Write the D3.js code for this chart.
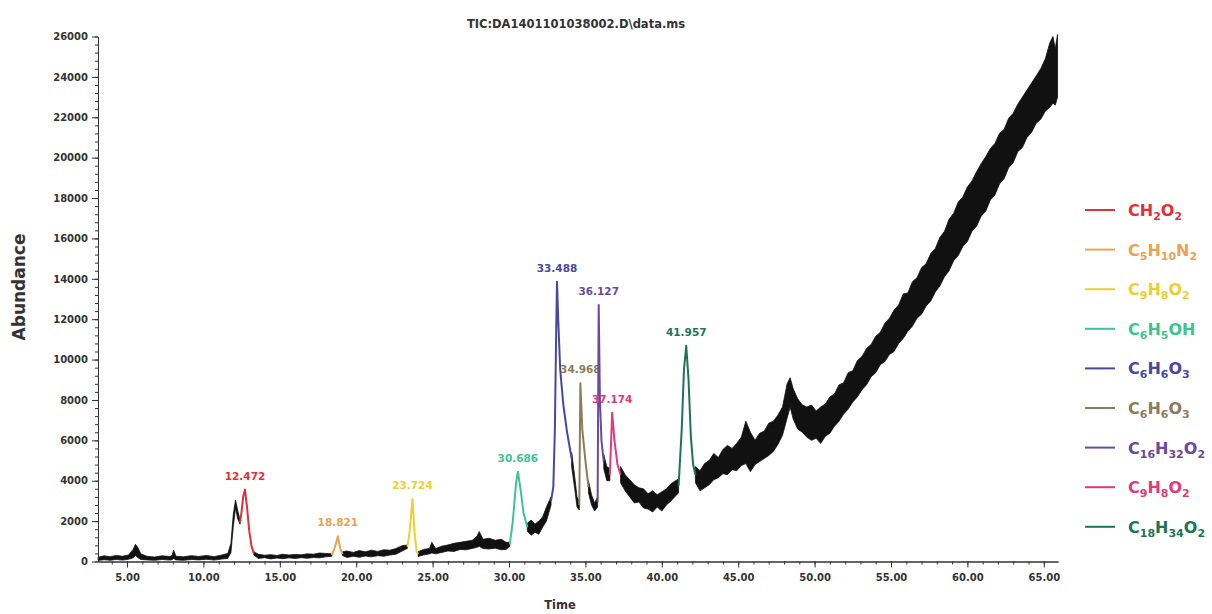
<!DOCTYPE html>
<html>
<head>
<meta charset="utf-8">
<script src="https://cdn.jsdelivr.net/npm/d3@7/dist/d3.min.js"></script>
<style>
  body { margin: 0; background: #fff; }
  text { font-family: "DejaVu Sans", sans-serif; }
</style>
</head>
<body>
<div id="chart"></div>
<script>
// TIC trace: time (min), lower and upper edge of the noisy band.
// null marks a gap where a coloured peak takes over.
const traceTime = [
  3.1, 3.5, 3.9, 4.3, 4.7, 5.1, 5.4, 5.55, 5.7, 5.9, 6.3, 6.8, 7.3, 7.8, 7.95, 8.05, 8.2, 8.7, 9.2, 9.7, 10.2, 10.7, 11.2, 11.6, 11.8, 11.95, 12.1, 12.25, 12.4, 12.41,
  13.3, 13.6, 14.0, 14.4, 14.8, 15.2, 15.6, 16.0, 16.4, 16.8, 17.2, 17.6, 18.0, 18.4, 18.41,
  19.1, 19.4, 19.8, 20.2, 20.6, 21.0, 21.4, 21.8, 22.2, 22.6, 23.0, 23.35, 23.36,
  24.05, 24.4, 24.8, 24.95, 25.2, 25.6, 26.0, 26.4, 26.8, 27.2, 27.6, 27.9, 28.05, 28.3, 28.7, 29.1, 29.5, 29.8, 30.05, 30.06,
  31.2, 31.45, 31.7, 31.95, 32.2, 32.45, 32.75, 32.76,
  34.1, 34.3, 34.45, 34.6, 34.61,
  35.2, 35.4, 35.6, 35.8, 35.81,
  36.2, 36.4, 36.6, 36.61,
  37.3, 37.6, 37.9, 38.2, 38.5, 38.8, 39.1, 39.4, 39.7, 40.0, 40.3, 40.6, 40.9, 41.1, 41.11,
  42.2, 42.5, 42.8, 43.1, 43.4, 43.7, 44.0, 44.3, 44.6, 44.9, 45.2, 45.5, 45.8, 46.1, 46.4, 46.7, 47.0, 47.3, 47.6, 47.9,
  48.2, 48.4, 48.6, 48.9, 49.2, 49.5, 49.8, 50.1, 50.4, 50.7, 51.0, 51.3, 51.6, 51.9, 52.2, 52.5, 52.8, 53.1, 53.4, 53.7,
  54.0, 54.3, 54.6, 54.9, 55.2, 55.5, 55.8, 56.1, 56.4, 56.7, 57.0, 57.3, 57.6, 57.9, 58.2, 58.5, 58.8, 59.1, 59.4, 59.7,
  60.0, 60.3, 60.6, 60.9, 61.2, 61.5, 61.8, 62.1, 62.4, 62.7, 63.0, 63.3, 63.6, 63.9, 64.2, 64.5, 64.8, 65.1, 65.4, 65.6, 65.75, 65.9
];
const traceLow = [
  50, 90, 60, 100, 70, 110, 180, 300, 200, 100, 80, 60, 100, 70, 90, 150, 80, 60, 100, 80, 110, 70, 120, 160, 450, 1700, 2650, 2100, 1850, null,
  320, 150, 190, 130, 170, 140, 180, 150, 190, 160, 200, 180, 230, 260, null,
  300, 200, 260, 210, 270, 230, 290, 260, 320, 360, 520, 650, null,
  250, 320, 380, 420, 380, 450, 520, 500, 600, 580, 650, 700, 750, 640, 620, 660, 580, 600, 750, null,
  1500, 1300, 1450, 1350, 1700, 2000, 2800, null,
  4700, 3600, 2700, 2550, null,
  3400, 2800, 2500, 2700, null,
  4600, 4000, 4000, null,
  3900, 3500, 3200, 2900, 2950, 2650, 2600, 2450, 2700, 2500, 2800, 3000, 3250, 3400, null,
  3900, 3500, 3650, 3800, 4050, 4150, 4350, 4300, 4550, 4500, 4750, 4850, 4450, 4800, 4950, 5100, 5250, 5450, 5800, 6250,
  7100, 7650, 7050, 6550, 6400, 6150, 6000, 6100, 5850, 6200, 6350, 6700, 6950, 7300, 7550, 7900, 8150, 8500, 8750, 9150,
  9350, 9750, 9900, 10250, 10400, 10800, 11050, 11400, 11650, 12050, 12250, 12650, 12900, 13350, 13650, 14100, 14400, 14900, 15150, 15600,
  15850, 16350, 16600, 17100, 17350, 17900, 18150, 18700, 18950, 19500, 19750, 20300, 20500, 21000, 21250, 21700, 21900, 22300, 22500, 22700, 22600, 23000
];
const traceHigh = [
  210, 280, 240, 300, 260, 320, 600, 850, 700, 380, 260, 220, 280, 250, 300, 560, 260, 230, 290, 250, 300, 240, 320, 400, 900, 2300, 3050, 2500, 2050, null,
  480, 360, 310, 340, 300, 360, 320, 350, 330, 380, 360, 420, 400, 380, null,
  480, 520, 450, 540, 480, 560, 500, 580, 560, 640, 780, 820, null,
  480, 600, 650, 950, 640, 760, 820, 900, 950, 1000, 1050, 1250, 1480, 1100, 1150, 1050, 1100, 950, 950, null,
  1900, 2050, 1850, 2000, 2200, 2700, 3200, null,
  5400, 4200, 3200, 3000, null,
  4000, 3300, 2900, 3200, null,
  5300, 4700, 4600, null,
  4700, 4300, 4050, 3800, 3650, 3600, 3350, 3500, 3300, 3450, 3600, 3850, 4000, 4100, null,
  4700, 4500, 4850, 5000, 5350, 5150, 5550, 5750, 5600, 5850, 6150, 6950, 6400, 6000, 6350, 6450, 6850, 6950, 7250, 7650,
  8800, 9100, 8550, 8050, 7750, 7650, 7750, 7450, 7650, 7800, 8150, 8300, 8750, 8850, 9350, 9450, 9950, 10150, 10550, 10750,
  11150, 11350, 11800, 12050, 12450, 12700, 13250, 13300, 13850, 14050, 14550, 14750, 15250, 15500, 16050, 16350, 16950, 17250, 17800, 18050,
  18550, 18850, 19300, 19700, 20050, 20450, 20700, 21200, 21400, 21950, 22200, 22650, 23000, 23350, 23700, 24050, 24400, 24900, 25700, 26000, 25400, 26100
];

// identified peaks
const peakLabels = ["12.472", "18.821", "23.724", "30.686", "33.488", "34.968", "36.127", "37.174", "41.957"];
const compounds = ["CH2O2", "C5H10N2", "C9H8O2", "C6H5OH", "C6H6O3", "C6H6O3", "C16H32O2", "C9H8O2", "C18H34O2"];
const peakColors = ["#e0303c", "#e8a450", "#ecd030", "#3ec494", "#4848a0", "#8c7c5c", "#6a4aa0", "#e03a7c", "#1e7458"];
const peakTimes = [
  [12.4, 12.5, 12.6, 12.72, 12.85, 13.0, 13.15, 13.3],
  [18.4, 18.6, 18.8, 18.95, 19.1],
  [23.35, 23.5, 23.68, 23.82, 23.95, 24.05],
  [30.05, 30.25, 30.45, 30.58, 30.75, 30.95, 31.2],
  [32.75, 32.9, 33.0, 33.08, 33.14, 33.22, 33.35, 33.55, 33.8, 34.1],
  [34.6, 34.67, 34.8, 35.0, 35.2],
  [35.8, 35.87, 35.95, 36.05, 36.2],
  [36.6, 36.75, 36.9, 37.1, 37.3],
  [41.1, 41.3, 41.45, 41.6, 41.75, 41.9, 42.05, 42.2]
];
const peakValues = [
  [1950, 2500, 3200, 3560, 2700, 1500, 750, 400],
  [320, 700, 1250, 650, 380],
  [720, 1500, 3100, 1400, 500, 360],
  [850, 2000, 3800, 4450, 3600, 2400, 1700],
  [3000, 3700, 6500, 11000, 13860, 12000, 9500, 7800, 6400, 5100],
  [2800, 8830, 6500, 5000, 3700],
  [2950, 12700, 8000, 6000, 4950],
  [4300, 7365, 6000, 4800, 4300],
  [3750, 6500, 9500, 10680, 9000, 6200, 4800, 4300]
];

const xMajor = [5, 10, 15, 20, 25, 30, 35, 40, 45, 50, 55, 60, 65];
const yMajor = [0, 2000, 4000, 6000, 8000, 10000, 12000, 14000, 16000, 18000, 20000, 22000, 24000, 26000];

const W = 1212, H = 614;
let svg = d3.select("#chart")
    .append("svg")
    .attr("width", W)
    .attr("height", H);

let x = d3.scaleLinear().domain([3.1, 65.93]).range([98, 1058]);
let y = d3.scaleLinear().domain([0, 26000]).range([561.5, 36.5]);

// black trace band
let trace = traceTime.map(function(t, i) { return {t: t, lo: traceLow[i], hi: traceHigh[i]}; });
svg.append("path")
    .datum(trace)
    .attr("fill", "#111")
    .attr("stroke", "#111")
    .attr("stroke-width", 0.8)
    .attr("stroke-linejoin", "round")
    .attr("d", d3.area()
        .defined(function(d) { return d.lo !== null; })
        .x(function(d) { return x(d.t); })
        .y0(function(d) { return y(d.lo); })
        .y1(function(d) { return y(d.hi); }));

// coloured peaks and their retention-time labels
let line = d3.line()
    .x(function(d) { return x(d[0]); })
    .y(function(d) { return y(d[1]); });

peakTimes.forEach(function(ts, i) {
  let pts = ts.map(function(t, j) { return [t, peakValues[i][j]]; });
  svg.append("path")
      .datum(pts)
      .attr("fill", "none")
      .attr("stroke", peakColors[i])
      .attr("stroke-width", 2)
      .attr("stroke-linejoin", "round")
      .attr("d", line);

  let top = pts.reduce(function(a, b) { return b[1] > a[1] ? b : a; });
  svg.append("text")
      .attr("x", x(top[0]))
      .attr("y", y(top[1]) - 10)
      .attr("text-anchor", "middle")
      .attr("font-size", 10.5)
      .attr("font-weight", "bold")
      .attr("fill", peakColors[i])
      .text(peakLabels[i]);
});

// axes
function styleAxis(g) {
  g.attr("font-family", "DejaVu Sans");
  g.select(".domain").attr("stroke", "#333");
  g.selectAll(".tick line").attr("stroke", "#333");
  g.selectAll(".tick text").attr("fill", "#333").attr("font-size", 10).attr("font-weight", "bold");
}

svg.append("g")
    .attr("transform", `translate(0,${y(0)})`)
    .call(d3.axisBottom(x).tickValues(d3.range(4, 66, 1)).tickSize(3).tickSizeOuter(0).tickFormat(""))
    .call(styleAxis);
svg.append("g")
    .attr("transform", `translate(0,${y(0)})`)
    .call(d3.axisBottom(x).tickValues(xMajor).tickSize(6).tickSizeOuter(0).tickPadding(6).tickFormat(d3.format(".2f")))
    .call(styleAxis);

svg.append("g")
    .attr("transform", `translate(${x.range()[0]},0)`)
    .call(d3.axisLeft(y).tickValues(d3.range(0, 26001, 400)).tickSize(3).tickSizeOuter(0).tickFormat(""))
    .call(styleAxis);
svg.append("g")
    .attr("transform", `translate(${x.range()[0]},0)`)
    .call(d3.axisLeft(y).tickValues(yMajor).tickSize(6).tickSizeOuter(0).tickPadding(4).tickFormat(d3.format("d")))
    .call(styleAxis);

// titles
svg.append("text")
    .attr("x", 576)
    .attr("y", 28)
    .attr("text-anchor", "middle")
    .attr("font-size", 11.5)
    .attr("font-weight", "bold")
    .attr("fill", "#333")
    .text("TIC:DA1401101038002.D\\data.ms");

svg.append("text")
    .attr("transform", `translate(25, 287) rotate(-90)`)
    .attr("text-anchor", "middle")
    .attr("font-size", 17)
    .attr("font-weight", "bold")
    .attr("fill", "#333")
    .text("Abundance");

svg.append("text")
    .attr("x", 560)
    .attr("y", 609)
    .attr("text-anchor", "middle")
    .attr("font-size", 11.5)
    .attr("font-weight", "bold")
    .attr("fill", "#333")
    .text("Time");

// legend with chemical formulas
let legend = svg.append("g");
compounds.forEach(function(f, i) {
  let ry = 210 + i * 39.6;
  legend.append("line")
      .attr("x1", 1085).attr("x2", 1115)
      .attr("y1", ry).attr("y2", ry)
      .attr("stroke", peakColors[i])
      .attr("stroke-width", 2);

  let t = legend.append("text")
      .attr("x", 1128)
      .attr("y", ry + 6)
      .attr("font-size", 16)
      .attr("font-weight", "bold")
      .attr("fill", peakColors[i]);

  let shifted = false;
  f.match(/[A-Z][a-z]?|\d+/g).forEach(function(p) {
    let isNum = /\d/.test(p);
    let dy = 0;
    if (isNum && !shifted) { dy = 4; shifted = true; }
    else if (!isNum && shifted) { dy = -4; shifted = false; }
    t.append("tspan")
        .attr("dy", dy)
        .attr("font-size", isNum ? 11 : 16)
        .text(p);
  });
});
</script>
</body>
</html>
